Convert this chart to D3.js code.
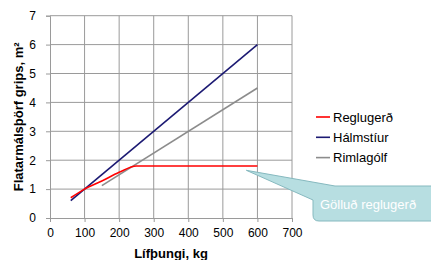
<!DOCTYPE html>
<html>
<head>
<meta charset="utf-8">
<script src="https://cdn.jsdelivr.net/npm/d3@7"></script>
<style>
  body { margin: 0; background: #fff; }
  svg text { font-family: Arial, "Liberation Sans", sans-serif; fill: #000; }
</style>
</head>
<body>
<div id="graf"></div>
<script>
// gögn
const xTicks = [0, 100, 200, 300, 400, 500, 600, 700]
const yTicks = [0, 1, 2, 3, 4, 5, 6, 7]

const reglugerdKg = [60, 100, 150, 200, 250, 300, 400, 500, 600]
const reglugerdM2 = [0.7, 1.0, 1.28, 1.58, 1.8, 1.8, 1.8, 1.8, 1.8]
const halmKg = [60, 600]
const halmM2 = [0.6, 6.0]
const rimlaKg = [150, 600]
const rimlaM2 = [1.12, 4.5]

const seriesNames = ['Reglugerð', 'Hálmstíur', 'Rimlagólf']
const calloutText = 'Gölluð reglugerð'
const calloutPoint = [568, 1.65]

const anchoTotal = 431
const altoTotal = 260

const svg = d3.select('#graf')
  .append('svg')
  .attr('width', anchoTotal)
  .attr('height', altoTotal)

const x = d3.scaleLinear().domain([0, 700]).range([50, 292])
const y = d3.scaleLinear().domain([0, 7]).range([218, 15.7])

const color = d3.scaleOrdinal()
  .domain(seriesNames)
  .range(['#ff0000', '#1c1a73', '#8c8c8c'])

// grid
const gridColor = '#9a9a9a'
svg.append('g')
  .selectAll('line')
  .data(xTicks.slice(1))
  .join('line')
  .attr('x1', d => x(d)).attr('x2', d => x(d))
  .attr('y1', y(0)).attr('y2', y(7))
  .attr('stroke', gridColor)

svg.append('g')
  .selectAll('line')
  .data(yTicks.slice(1))
  .join('line')
  .attr('x1', x(0)).attr('x2', x(700))
  .attr('y1', d => y(d)).attr('y2', d => y(d))
  .attr('stroke', gridColor)

// ásar
const xAxis = svg.append('g')
  .attr('transform', `translate(0, ${y(0)})`)
  .call(d3.axisBottom(x).tickValues(xTicks).tickFormat(d3.format('d')).tickSize(4).tickPadding(6))
const yAxis = svg.append('g')
  .attr('transform', `translate(${x(0)}, 0)`)
  .call(d3.axisLeft(y).tickValues(yTicks).tickFormat(d3.format('d')).tickSize(4).tickPadding(10))

;[xAxis, yAxis].forEach(a => {
  a.select('.domain').attr('stroke', gridColor)
  a.selectAll('.tick line').attr('stroke', gridColor)
  a.selectAll('.tick text')
    .attr('font-size', 12)
    .attr('font-family', 'Arial, "Liberation Sans", sans-serif')
    .attr('fill', '#000')
})

svg.append('text')
  .attr('x', (x(0) + x(700)) / 2)
  .attr('y', 258)
  .attr('text-anchor', 'middle')
  .attr('font-size', 13)
  .attr('font-weight', 'bold')
  .text('Lífþungi, kg')

svg.append('text')
  .attr('transform', `translate(23, ${(y(0) + y(7)) / 2}) rotate(-90)`)
  .attr('text-anchor', 'middle')
  .attr('font-size', 13)
  .attr('font-weight', 'bold')
  .text('Flatarmálsþörf grips, m²')

// línur
const series = [
  { name: 'Reglugerð', pts: reglugerdKg.map((k, i) => [k, reglugerdM2[i]]), curve: d3.curveMonotoneX },
  { name: 'Hálmstíur', pts: halmKg.map((k, i) => [k, halmM2[i]]), curve: d3.curveLinear },
  { name: 'Rimlagólf', pts: rimlaKg.map((k, i) => [k, rimlaM2[i]]), curve: d3.curveLinear },
]

svg.append('g')
  .selectAll('path')
  .data([series[2], series[1], series[0]])
  .join('path')
  .attr('fill', 'none')
  .attr('stroke', d => color(d.name))
  .attr('stroke-width', 1.6)
  .attr('d', d => d3.line().x(p => x(p[0])).y(p => y(p[1])).curve(d.curve)(d.pts))

// skýring
const legend = svg.append('g')
  .selectAll('g')
  .data(seriesNames)
  .join('g')
  .attr('transform', (d, i) => `translate(316, ${117 + i * 20.3})`)
legend.append('line')
  .attr('x1', 0).attr('x2', 14)
  .attr('stroke', d => color(d))
  .attr('stroke-width', 1.6)
legend.append('text')
  .attr('x', 17)
  .attr('dy', '0.35em')
  .attr('font-size', 13)
  .text(d => d)

// athugasemd
const tipX = x(calloutPoint[0])
const tipY = y(calloutPoint[1])
const bx = 313, by = 186, bw = 125, bh = 35, r = 6
const callPath = [
  `M${bx + 22},${by}`,
  `L${tipX},${tipY}`,
  `L${bx},${by + 14}`,
  `L${bx},${by + bh - r}`,
  `Q${bx},${by + bh} ${bx + r},${by + bh}`,
  `L${bx + bw - r},${by + bh}`,
  `Q${bx + bw},${by + bh} ${bx + bw},${by + bh - r}`,
  `L${bx + bw},${by + r}`,
  `Q${bx + bw},${by} ${bx + bw - r},${by}`,
  'Z'
].join(' ')
svg.append('path')
  .attr('d', callPath)
  .attr('fill', '#b7dee1')
  .attr('stroke', '#86b9bf')
  .attr('stroke-width', 1)

svg.append('text')
  .attr('x', 320)
  .attr('y', 204)
  .attr('dy', '0.35em')
  .attr('font-size', 13)
  .style('fill', '#ffffff')
  .text(calloutText)
</script>
</body>
</html>
